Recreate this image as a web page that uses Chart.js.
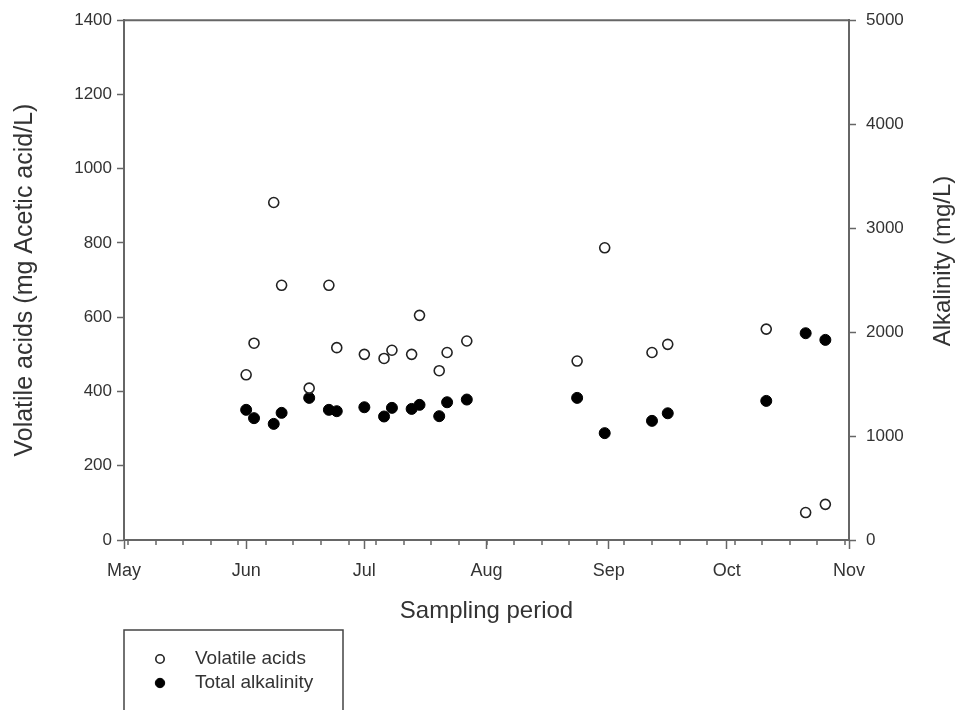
<!DOCTYPE html>
<html><head><meta charset="utf-8">
<script src="https://cdn.jsdelivr.net/npm/chart.js@4.4.1/dist/chart.umd.min.js"></script>
<style>html,body{margin:0;padding:0;background:#fff;}#wrap{width:956px;height:710px;}</style>
</head><body><div id="wrap"><canvas id="c" width="956" height="710"></canvas></div>
<script>
// ---- data ----
const sampleDates = ['06-01','06-03','06-08','06-10','06-17','06-22','06-24','07-01','07-06','07-08','07-13',
  '07-15','07-20','07-22','07-27','08-24','08-31','09-12','09-16','10-11','10-21','10-26'];
const volatileAcids = [445,530,909,686,409,686,518,500,489,511,500,605,456,505,536,482,787,505,527,568,74,96];
const totalAlkalinity = [1252,1172,1117,1223,1367,1252,1239,1277,1188,1271,1261,1300,1191,1325,1351,1367,1028,1146,1219,1338,1989,1925];
const monthLabels = ['May','Jun','Jul','Aug','Sep','Oct','Nov'];
const monthStarts = ['05-01','06-01','07-01','08-01','09-01','10-01','11-01'];
const leftTicks = [0,200,400,600,800,1000,1200,1400];
const rightTicks = [0,1000,2000,3000,4000,5000];
const seriesNames = ['Volatile acids','Total alkalinity'];
const xTitle = 'Sampling period';
const leftTitle = 'Volatile acids (mg Acetic acid/L)';
const rightTitle = 'Alkalinity (mg/L)';

function dayOffset(md){const [m,d]=md.split('-').map(Number);return (Date.UTC(2001,m-1,d)-Date.UTC(2001,4,1))/86400000;}
const monthOffsets = monthStarts.map(dayOffset);

const FONT = "'Liberation Sans', Arial, sans-serif";
const TXT = '#333';
const AX = '#666';

const decor = {
  id:'decor',
  afterDraw(chart){
    const ctx = chart.ctx, a = chart.chartArea, xs = chart.scales.x;
    ctx.save();
    ctx.strokeStyle = AX; ctx.lineWidth = 2;
    ctx.beginPath(); ctx.moveTo(a.left, a.top); ctx.lineTo(a.right, a.top); ctx.stroke();
    // minor weekly ticks
    ctx.lineWidth = 1.5;
    for (let d = 1; d < xs.max; d += 7) {
      const px = Math.round(xs.getPixelForValue(d));
      ctx.beginPath(); ctx.moveTo(px, a.bottom); ctx.lineTo(px, a.bottom + 5); ctx.stroke();
    }
    // right title (reads bottom to top)
    ctx.fillStyle = TXT; ctx.font = "24px " + FONT;
    ctx.translate(943, 261); ctx.rotate(-Math.PI/2);
    ctx.textAlign = 'center'; ctx.textBaseline = 'middle';
    ctx.fillText(rightTitle, 0, 0);
    ctx.restore();
    // legend box
    ctx.save();
    ctx.strokeStyle = '#444'; ctx.lineWidth = 1.5;
    ctx.beginPath(); ctx.moveTo(124, 712); ctx.lineTo(124, 630); ctx.lineTo(343, 630); ctx.lineTo(343, 712); ctx.stroke();
    ctx.font = "19px " + FONT; ctx.textBaseline = 'middle'; ctx.textAlign = 'left';
    chart.data.datasets.forEach((ds, i) => {
      const y = 659 + i * 24;
      ctx.beginPath(); ctx.arc(160, y, ds.pointRadius - 0.8, 0, Math.PI*2);
      ctx.fillStyle = ds.backgroundColor; ctx.fill();
      ctx.lineWidth = ds.borderWidth; ctx.strokeStyle = ds.borderColor; ctx.stroke();
      ctx.fillStyle = TXT; ctx.fillText(ds.label, 195, y);
    });
    ctx.restore();
  }
};

new Chart(document.getElementById('c'), {
  type: 'scatter',
  data: {
    datasets: [
      { label: seriesNames[0], yAxisID: 'y',
        data: sampleDates.map((d,i)=>({x: dayOffset(d), y: volatileAcids[i]})),
        pointRadius: 5, backgroundColor: '#fff', borderColor: '#222', borderWidth: 1.6 },
      { label: seriesNames[1], yAxisID: 'y1',
        data: sampleDates.map((d,i)=>({x: dayOffset(d), y: totalAlkalinity[i]})),
        pointRadius: 5.5, backgroundColor: '#000', borderColor: '#000', borderWidth: 1 }
    ]
  },
  options: {
    responsive: false, animation: false, devicePixelRatio: 1,
    layout: { padding: { top: 18, left: 0, right: 0, bottom: 0 } },
    plugins: { legend: { display: false }, tooltip: { enabled: false } },
    scales: {
      x: {
        type: 'linear', min: monthOffsets[0], max: monthOffsets[monthOffsets.length-1],
        afterBuildTicks: s => { s.ticks = monthOffsets.map(v => ({ value: v })); },
        afterFit: s => { s.height = 170; },
        ticks: { autoSkip: false, maxRotation: 0, padding: 11, color: TXT, font: { family: FONT, size: 18 },
          callback: v => monthLabels[monthOffsets.indexOf(v)] },
        grid: { drawOnChartArea: false, drawTicks: true, tickLength: 9, color: AX, tickWidth: 1.5 },
        border: { display: true, color: AX, width: 2 },
        title: { display: true, text: xTitle, color: TXT, font: { family: FONT, size: 24 }, padding: { top: 0, bottom: 84 } }
      },
      y: {
        position: 'left', min: leftTicks[0], max: leftTicks[leftTicks.length-1],
        afterBuildTicks: s => { s.ticks = leftTicks.map(v => ({ value: v })); },
        afterFit: s => { s.width = 124; },
        ticks: { padding: 5, color: TXT, font: { family: FONT, size: 17 }, callback: v => String(v) },
        grid: { drawOnChartArea: false, drawTicks: true, tickLength: 7, color: AX, tickWidth: 1.5 },
        border: { display: true, color: AX, width: 2 },
        title: { display: true, text: leftTitle, color: TXT, font: { family: FONT, size: 25 }, padding: { top: 10, bottom: 0 } }
      },
      y1: {
        position: 'right', min: rightTicks[0], max: rightTicks[rightTicks.length-1],
        afterBuildTicks: s => { s.ticks = rightTicks.map(v => ({ value: v })); },
        afterFit: s => { s.width = 107; },
        ticks: { padding: 10, color: TXT, font: { family: FONT, size: 17 }, callback: v => String(v) },
        grid: { drawOnChartArea: false, drawTicks: true, tickLength: 7, color: AX, tickWidth: 1.5 },
        border: { display: true, color: AX, width: 2 },
        title: { display: false }
      }
    }
  },
  plugins: [decor]
});
</script></body></html>
